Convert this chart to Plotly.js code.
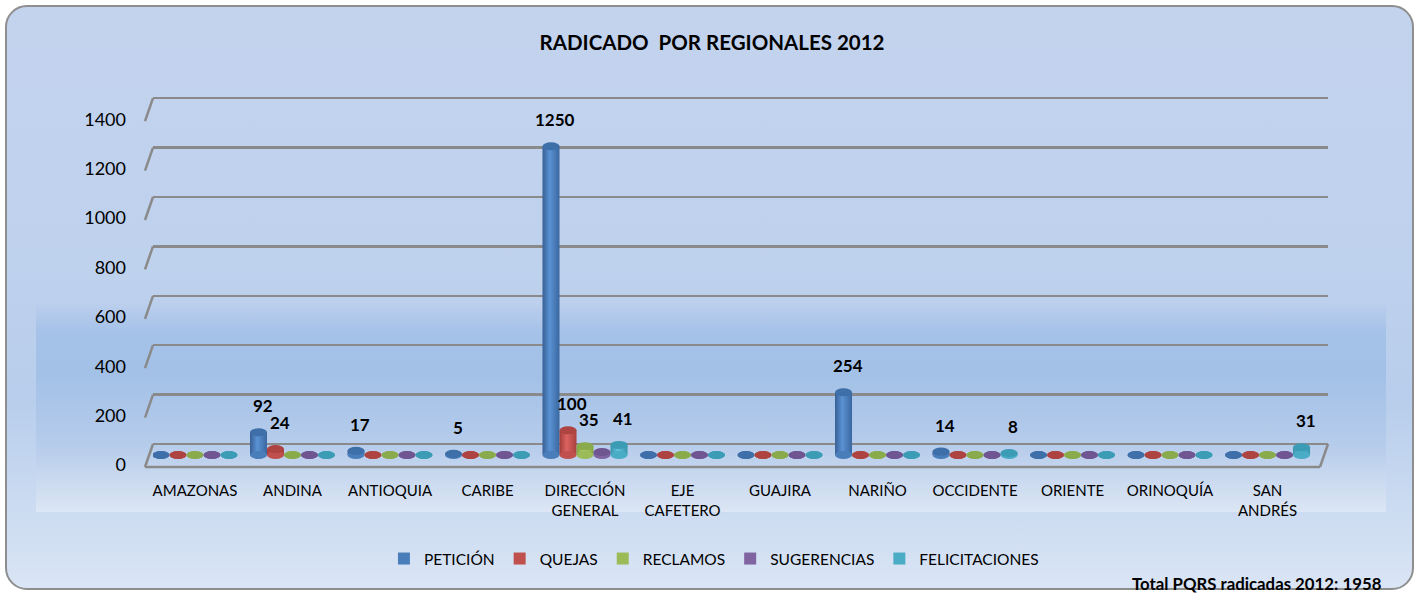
<!DOCTYPE html>
<html><head><meta charset="utf-8">
<script src="https://cdn.plot.ly/plotly-3.0.1.min.js"></script>
<style>
html,body{margin:0;padding:0;background:#fff;}
#wrap{position:relative;width:1417px;height:593px;overflow:hidden;}
#frame{position:absolute;left:5px;top:5px;width:1405px;height:581px;border:2px solid #8e8e8e;border-radius:22px;
 background:linear-gradient(to bottom,#C3D3EE 0%,#BED1ED 45%,#B8CEEC 68%,#DAE5F5 100%);}
#inner{position:absolute;left:36px;top:303px;width:1350px;height:209px;
 background:linear-gradient(to bottom,#BCCFED 0%,#A5C2E8 14%,#A3C1E7 35%,#B6CCEB 68%,#DCE6F4 100%);}
#chart{position:absolute;left:0;top:0;width:1417px;height:593px;}
</style></head>
<body>
<div id="wrap"><div id="frame"></div><div id="inner"></div><div id="chart"></div></div>
<script>
const categories = ['AMAZONAS','ANDINA','ANTIOQUIA','CARIBE','DIRECCIÓN<br>GENERAL','EJE<br>CAFETERO','GUAJIRA','NARIÑO','OCCIDENTE','ORIENTE','ORINOQUÍA','SAN<br>ANDRÉS'];
const seriesNames = ['PETICIÓN','QUEJAS','RECLAMOS','SUGERENCIAS','FELICITACIONES'];
const peticion       = [0,92,17,5,1250,0,0,254,14,0,0,0];
const quejas         = [0,24,0,0,100,0,0,0,0,0,0,0];
const reclamos       = [0,0,0,0,35,0,0,0,0,0,0,0];
const sugerencias    = [0,0,0,0,12,0,0,0,0,0,0,0];
const felicitaciones = [0,0,0,0,41,0,0,0,8,0,0,31];
const labelsPeticion       = ['','92','17','5','1250','','','254','14','','',''];
const labelsQuejas         = ['','24','','','100','','','','','','',''];
const labelsReclamos       = ['','','','','35','','','','','','',''];
const labelsSugerencias    = ['','','','','','','','','','','',''];
const labelsFelicitaciones = ['','','','','41','','','','8','','','31'];
const yTicks = [0,200,400,600,800,1000,1200,1400];
const titleText = 'RADICADO&nbsp;&nbsp;POR REGIONALES 2012';
const totalText = 'Total PQRS radicadas 2012: 1958';

const values = [peticion, quejas, reclamos, sugerencias, felicitaciones];
const labels = [labelsPeticion, labelsQuejas, labelsReclamos, labelsSugerencias, labelsFelicitaciones];
const colors = ['#4A7EBB','#C0504D','#9BBB59','#8064A2','#4BACC6'];
const topColors = ['#3E6FA9','#AE4441','#8AAB4B','#6F5591','#3C9BB5'];
const gradStops = [
  ['#375F95','#5A92D3','#3A67A0'],
  ['#A23C39','#DB6360','#A8403D'],
  ['#82A044','#B3D46C','#86A448'],
  ['#684F88','#9479BA','#6B528C'],
  ['#3890A8','#62C3DD','#3A94AC']
];
const idx = categories.map((c,i)=>i);
const bargap = 0.128;
const w = (1-bargap)/values.length;

const font = 'Lato, "Open Sans", sans-serif';
const traces = values.map((v,s)=>({
  type:'bar', name:seriesNames[s], x:idx, y:v,
  marker:{color:colors[s], line:{width:0}}, hoverinfo:'skip'
}));

const shapes = [];
const annotations = [];
values.forEach((v,s)=>{
  v.forEach((val,i)=>{
    const xc = i + (s-(values.length-1)/2)*w;
    const base = {type:'circle', xref:'x', yref:'y', xsizemode:'pixel', ysizemode:'pixel',
      x0:-8.5, x1:8.5, y0:-4, y1:4, line:{width:0}};
    shapes.push(Object.assign({}, base, {xanchor:xc, yanchor:0, fillcolor:colors[s]}));
    shapes.push(Object.assign({}, base, {xanchor:xc, yanchor:val, fillcolor:topColors[s]}));
    if (labels[s][i] !== '') {
      annotations.push({x:xc, y:val, xref:'x', yref:'y', text:'<b>'+labels[s][i]+'</b>',
        showarrow:false, yanchor:'bottom', yshift:14, xshift:4,
        font:{family:font, size:17, color:'#000'}});
    }
  });
});
// 3D wall/floor edges
const edge = {color:'#8a8a8a', width:2.5};
yTicks.forEach(t=>{
  shapes.push({type:'line', xref:'paper', yref:'y2', xsizemode:'pixel', ysizemode:'pixel',
    xanchor:0, yanchor:t, x0:0, x1:-8, y0:0, y1:-23, line:edge});
});
shapes.push({type:'line', xref:'paper', yref:'y2', xsizemode:'pixel', ysizemode:'pixel',
  xanchor:0, yanchor:0, x0:-8, x1:1167, y0:-23, y1:-23, line:edge});
shapes.push({type:'line', xref:'paper', yref:'y2', xsizemode:'pixel', ysizemode:'pixel',
  xanchor:1, yanchor:0, x0:0, x1:-8, y0:0, y1:-23, line:edge});

annotations.push({xref:'paper', yref:'paper', x:1.0477, y:-0.2476, xanchor:'right', yanchor:'middle',
  text:'<b>'+totalText+'</b>', showarrow:false, font:{family:font, size:16.8, color:'#000'}});

const layout = {
  width:1417, height:593,
  margin:{l:153, r:89, t:60, b:113},
  paper_bgcolor:'rgba(0,0,0,0)', plot_bgcolor:'rgba(0,0,0,0)',
  font:{family:font, color:'#000'},
  title:{text:'<b>'+titleText+'</b>', x:0.5025, xanchor:'center', y:1-43/593, yanchor:'middle', yref:'container',
    font:{family:font, size:20.5, color:'#000'}},
  barmode:'group', bargap:bargap, bargroupgap:0,
  showlegend:true,
  legend:{orientation:'h', x:0.4774, xanchor:'center', y:-0.188, yanchor:'middle',
    font:{family:font, size:15.5, color:'#000'}, bgcolor:'rgba(0,0,0,0)', itemclick:false},
  xaxis:{range:[-0.4308, 11.620], tickvals:idx, ticktext:categories, showgrid:false, zeroline:false,
    showline:false, ticks:'', tickfont:{family:font, size:15, color:'#000'}, fixedrange:true},
  yaxis:{range:[-101.2, 1599.2], showgrid:false, zeroline:false, showticklabels:false, fixedrange:true},
  yaxis2:{range:[-145.7, 1554.7], overlaying:'y', side:'left', anchor:'x', tickvals:yTicks,
    showgrid:true, gridcolor:'#8a8a8a', gridwidth:2.5, zeroline:true, zerolinecolor:'#8a8a8a', zerolinewidth:2.5,
    ticks:'', ticklabelshift:21, ticklabelstandoff:26, tickfont:{family:font, size:18, color:'#000'}, fixedrange:true},
  shapes:shapes, annotations:annotations
};
// invisible trace to activate yaxis2 (wall gridlines)
traces.push({type:'scatter', x:[0], y:[0], yaxis:'y2', mode:'markers', marker:{opacity:0}, showlegend:false, hoverinfo:'skip'});
Plotly.newPlot('chart', traces, layout, {displayModeBar:false, staticPlot:true}).then(gd=>{
  // cylinder shading: horizontal gradient on bar bodies
  const svg = gd.querySelector('.main-svg');
  const ns = 'http://www.w3.org/2000/svg';
  let defs = svg.querySelector('defs');
  gradStops.forEach((st,s)=>{
    const g = document.createElementNS(ns,'linearGradient');
    g.setAttribute('id','cyl'+s); g.setAttribute('x1','0'); g.setAttribute('x2','1'); g.setAttribute('y1','0'); g.setAttribute('y2','0');
    [[0,st[0]],[0.42,st[1]],[1,st[2]]].forEach(([o,c])=>{
      const e = document.createElementNS(ns,'stop'); e.setAttribute('offset',o); e.setAttribute('stop-color',c); g.appendChild(e);
    });
    defs.appendChild(g);
  });
  gd.querySelectorAll('.barlayer .trace.bars').forEach((tr,s)=>{
    tr.querySelectorAll('.point path').forEach(p=>{ p.style.fill = 'url(#cyl'+s+')'; });
  });
});
</script>
</body></html>
